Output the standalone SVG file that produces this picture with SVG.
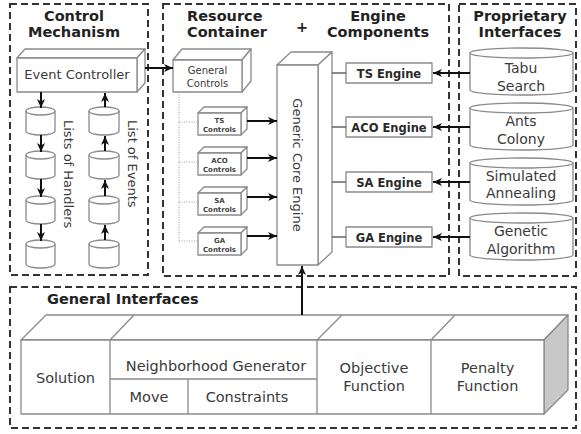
<svg xmlns="http://www.w3.org/2000/svg" width="581" height="434" viewBox="0 0 581 434">
  <style>
    .frame { fill: none; stroke: #333; stroke-width: 2; stroke-dasharray: 7 4; }
    .box { fill: #fff; stroke: #8a8a8a; stroke-width: 1.3; stroke-linejoin: round; }
    .shade { fill: #c8c8c8; stroke: #8a8a8a; stroke-width: 1.3; stroke-linejoin: round; }
    .thin { fill: none; stroke: #8a8a8a; stroke-width: 1.3; }
    .head { font-family: "DejaVu Sans", Verdana, sans-serif; font-weight: bold; font-size: 14.5px; fill: #222; }
    .lbl { font-family: "DejaVu Sans", Verdana, sans-serif; font-size: 14px; fill: #3a3a3a; text-anchor: middle; }
    .mid { font-family: "DejaVu Sans", Verdana, sans-serif; font-size: 13px; fill: #3a3a3a; }
    .small { font-family: "DejaVu Sans", Verdana, sans-serif; font-size: 10px; fill: #3a3a3a; text-anchor: middle; }
    .tiny { font-family: "DejaVu Sans", Verdana, sans-serif; font-weight: bold; font-size: 7px; fill: #444; text-anchor: middle; }
    .eng { font-family: "DejaVu Sans", Verdana, sans-serif; font-weight: bold; font-size: 11.5px; fill: #2a2a2a; text-anchor: middle; }
    .arrow { fill: none; stroke: #111; stroke-width: 2; marker-end: url(#head); }
    .link { fill: none; stroke: #666; stroke-width: 1.5; }
    .dots { fill: none; stroke: #999; stroke-width: 1; stroke-dasharray: 1 1.5; }
  </style>
  <defs>
    <marker id="head" markerUnits="userSpaceOnUse" markerWidth="10" markerHeight="10" refX="9" refY="5" orient="auto">
      <path d="M0,1 L9,5 L0,9 L2.5,5 z" fill="#111"/>
    </marker>
  </defs>

  <rect width="581" height="434" fill="#fff"/>

  <!-- dashed section frames -->
  <g id="frames">
    <rect class="frame" x="10" y="4" width="138" height="271"/>
    <rect class="frame" x="163" y="4" width="286" height="272"/>
    <rect class="frame" x="459" y="4" width="117" height="272"/>
    <rect class="frame" x="10" y="287" width="566" height="141"/>
  </g>

  <!-- section titles -->
  <g id="titles">
    <text class="head" x="74" y="21" text-anchor="middle">Control</text>
    <text class="head" x="74" y="37" text-anchor="middle">Mechanism</text>
    <text class="head" x="187" y="21">Resource</text>
    <text class="head" x="187" y="37">Container</text>
    <text class="head" x="302" y="32" text-anchor="middle">+</text>
    <text class="head" x="378" y="21" text-anchor="middle">Engine</text>
    <text class="head" x="378" y="37" text-anchor="middle">Components</text>
    <text class="head" x="520" y="21" text-anchor="middle">Proprietary</text>
    <text class="head" x="520" y="37" text-anchor="middle">Interfaces</text>
    <text class="head" x="47" y="304">General Interfaces</text>
  </g>

  <!-- Event Controller -->
  <g id="event-controller">
    <polygon class="box" points="17,58 25,49 145,49 137,58"/>
    <polygon class="box" points="137,58 145,49 145,83 137,92"/>
    <rect class="box" x="17" y="58" width="120" height="34"/>
    <text class="mid" x="77" y="79" text-anchor="middle">Event Controller</text>
  </g>

  <!-- handler queue -->
  <g id="handlers">
    <path class="box" d="M26,111 v20 a14.5,4 0 0 0 29,0 v-20"/><ellipse class="box" cx="40.5" cy="111" rx="14.5" ry="4"/>
    <path class="box" d="M26,155 v20 a14.5,4 0 0 0 29,0 v-20"/><ellipse class="box" cx="40.5" cy="155" rx="14.5" ry="4"/>
    <path class="box" d="M26,200 v20 a14.5,4 0 0 0 29,0 v-20"/><ellipse class="box" cx="40.5" cy="200" rx="14.5" ry="4"/>
    <path class="box" d="M26,244 v20 a14.5,4 0 0 0 29,0 v-20"/><ellipse class="box" cx="40.5" cy="244" rx="14.5" ry="4"/>
    <text class="mid" transform="translate(64,120) rotate(90)">Lists of Handlers</text>
  </g>

  <!-- event queue -->
  <g id="events">
    <path class="box" d="M89,111 v20 a15,4 0 0 0 30,0 v-20"/><ellipse class="box" cx="104" cy="111" rx="15" ry="4"/>
    <path class="box" d="M89,155 v20 a15,4 0 0 0 30,0 v-20"/><ellipse class="box" cx="104" cy="155" rx="15" ry="4"/>
    <path class="box" d="M89,200 v20 a15,4 0 0 0 30,0 v-20"/><ellipse class="box" cx="104" cy="200" rx="15" ry="4"/>
    <path class="box" d="M89,244 v20 a15,4 0 0 0 30,0 v-20"/><ellipse class="box" cx="104" cy="244" rx="15" ry="4"/>
    <text class="mid" transform="translate(128,120) rotate(90)">List of Events</text>
  </g>

  <!-- General Controls -->
  <g id="general-controls">
    <polygon class="box" points="173,60 182,49 251,49 242,60"/>
    <polygon class="box" points="242,60 251,49 251,81 242,92"/>
    <rect class="box" x="173" y="60" width="69" height="32"/>
    <text class="small" x="207.5" y="74">General</text>
    <text class="small" x="207.5" y="87">Controls</text>
  </g>

  <g id="ts-controls">
    <polygon class="box" points="198,113 204,107 247,107 241,113"/>
    <polygon class="box" points="241,113 247,107 247,129 241,135"/>
    <rect class="box" x="198" y="113" width="43" height="22"/>
    <text class="tiny" x="219.5" y="123">TS</text>
    <text class="tiny" x="219.5" y="132">Controls</text>
  </g>
  <g id="aco-controls">
    <polygon class="box" points="198,153 204,147 247,147 241,153"/>
    <polygon class="box" points="241,153 247,147 247,169 241,175"/>
    <rect class="box" x="198" y="153" width="43" height="22"/>
    <text class="tiny" x="219.5" y="163">ACO</text>
    <text class="tiny" x="219.5" y="172">Controls</text>
  </g>
  <g id="sa-controls">
    <polygon class="box" points="198,193 204,187 247,187 241,193"/>
    <polygon class="box" points="241,193 247,187 247,209 241,215"/>
    <rect class="box" x="198" y="193" width="43" height="22"/>
    <text class="tiny" x="219.5" y="203">SA</text>
    <text class="tiny" x="219.5" y="212">Controls</text>
  </g>
  <g id="ga-controls">
    <polygon class="box" points="198,233 204,227 247,227 241,233"/>
    <polygon class="box" points="241,233 247,227 247,249 241,255"/>
    <rect class="box" x="198" y="233" width="43" height="22"/>
    <text class="tiny" x="219.5" y="243">GA</text>
    <text class="tiny" x="219.5" y="252">Controls</text>
  </g>

  <!-- Generic Core Engine -->
  <g id="core-engine">
    <polygon class="box" points="277,65 291,52 332,52 318,65"/>
    <polygon class="box" points="318,65 332,52 332,252 318,265"/>
    <rect class="box" x="277" y="65" width="41" height="200"/>
    <text class="mid" transform="translate(293,165) rotate(90)" text-anchor="middle">Generic Core Engine</text>
  </g>

  <!-- engine components -->
  <g id="ts-engine">
    <rect class="box" x="346" y="63" width="86" height="20"/>
    <text class="eng" x="389" y="77.5">TS Engine</text>
  </g>
  <g id="aco-engine">
    <rect class="box" x="346" y="117" width="86" height="20"/>
    <text class="eng" x="389" y="131.5">ACO Engine</text>
  </g>
  <g id="sa-engine">
    <rect class="box" x="346" y="172" width="86" height="20"/>
    <text class="eng" x="389" y="186.5">SA Engine</text>
  </g>
  <g id="ga-engine">
    <rect class="box" x="346" y="227" width="86" height="20"/>
    <text class="eng" x="389" y="241.5">GA Engine</text>
  </g>

  <!-- proprietary interfaces -->
  <g id="tabu-search">
    <path class="box" d="M470,53 v37 a51.5,5 0 0 0 103,0 v-37"/><ellipse class="box" cx="521.5" cy="53" rx="51.5" ry="5"/>
    <text class="lbl" x="521" y="73">Tabu</text>
    <text class="lbl" x="521" y="91">Search</text>
  </g>
  <g id="ants-colony">
    <path class="box" d="M470,108 v37 a51.5,5 0 0 0 103,0 v-37"/><ellipse class="box" cx="521.5" cy="108" rx="51.5" ry="5"/>
    <text class="lbl" x="521" y="126">Ants</text>
    <text class="lbl" x="521" y="144">Colony</text>
  </g>
  <g id="simulated-annealing">
    <path class="box" d="M470,163 v37 a51.5,5 0 0 0 103,0 v-37"/><ellipse class="box" cx="521.5" cy="163" rx="51.5" ry="5"/>
    <text class="lbl" x="521" y="181">Simulated</text>
    <text class="lbl" x="521" y="198">Annealing</text>
  </g>
  <g id="genetic-algorithm">
    <path class="box" d="M470,218 v37 a51.5,5 0 0 0 103,0 v-37"/><ellipse class="box" cx="521.5" cy="218" rx="51.5" ry="5"/>
    <text class="lbl" x="521" y="236">Genetic</text>
    <text class="lbl" x="521" y="254">Algorithm</text>
  </g>

  <!-- general interfaces block -->
  <g id="general-interfaces">
    <polygon class="box" points="21,340 46,315 568,315 544,340"/>
    <polygon class="shade" points="544,340 568,315 568,390 544,414"/>
    <rect class="box" x="21" y="340" width="523" height="74"/>
    <path class="thin" d="M110,340 V414 M317,340 V414 M431,340 V414 M110,340 L134,315 M317,340 L342,315 M431,340 L455,315 M110,379 H317 M188,379 V414"/>
    <text class="lbl" x="65.5" y="383" style="font-size:14.5px">Solution</text>
    <text class="lbl" x="216" y="371" style="font-size:14.5px">Neighborhood Generator</text>
    <text class="lbl" x="149" y="402" style="font-size:14.5px">Move</text>
    <text class="lbl" x="247" y="402" style="font-size:14.5px">Constraints</text>
    <text class="lbl" x="374" y="373" style="font-size:14.5px">Objective</text>
    <text class="lbl" x="374" y="391" style="font-size:14.5px">Function</text>
    <text class="lbl" x="487.5" y="373" style="font-size:14.5px">Penalty</text>
    <text class="lbl" x="487.5" y="391" style="font-size:14.5px">Function</text>
  </g>

  <!-- connectors -->
  <g id="connectors">
    <line class="arrow" x1="145" y1="68" x2="173" y2="68"/>
    <!-- handler chain (downward) -->
    <line class="arrow" x1="41" y1="92" x2="41" y2="108"/>
    <line class="arrow" x1="41" y1="135" x2="41" y2="152"/>
    <line class="arrow" x1="41" y1="179" x2="41" y2="197"/>
    <line class="arrow" x1="41" y1="224" x2="41" y2="241"/>
    <!-- event chain (upward) -->
    <line class="arrow" x1="105" y1="107" x2="105" y2="93"/>
    <line class="arrow" x1="105" y1="151" x2="105" y2="136"/>
    <line class="arrow" x1="105" y1="196" x2="105" y2="180"/>
    <line class="arrow" x1="105" y1="240" x2="105" y2="225"/>
    <!-- control tree -->
    <path class="dots" d="M179,92 V241 M179,122 H198 M179,162 H198 M179,202 H198 M179,241 H198"/>
    <line class="arrow" x1="247" y1="121" x2="277" y2="121"/>
    <line class="arrow" x1="247" y1="158" x2="277" y2="158"/>
    <line class="arrow" x1="247" y1="197" x2="277" y2="197"/>
    <line class="arrow" x1="247" y1="236" x2="277" y2="236"/>
    <!-- core to engines -->
    <path class="link" d="M332,73 H346 M332,127 H346 M332,182 H346 M332,237 H346"/>
    <!-- proprietary interfaces to engines -->
    <line class="arrow" x1="470" y1="73" x2="433" y2="73"/>
    <line class="arrow" x1="470" y1="127" x2="433" y2="127"/>
    <line class="arrow" x1="470" y1="182" x2="433" y2="182"/>
    <line class="arrow" x1="470" y1="237" x2="433" y2="237"/>
    <!-- general interfaces to core -->
    <line class="arrow" x1="302" y1="315" x2="302" y2="266"/>
  </g>
</svg>
